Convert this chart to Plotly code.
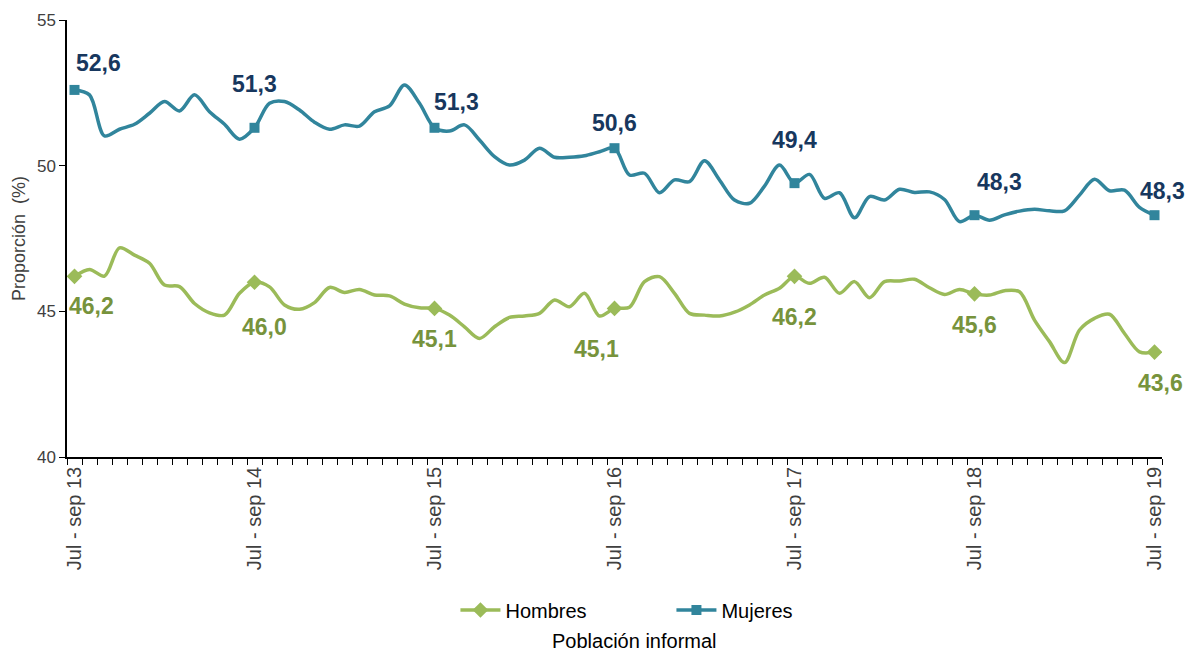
import plotly.graph_objects as go

years = ["13", "14", "15", "16", "17", "18", "19"]
tick_labels = ["Jul - sep " + y for y in years]

mujeres = [52.6, 52.43, 51.02, 51.25, 51.42, 51.8, 52.2, 51.88, 52.43, 51.85, 51.42, 50.91,
           51.3, 52.14, 52.2, 51.91, 51.49, 51.25, 51.4, 51.36, 51.85, 52.05, 52.77, 52.14,
           51.3, 51.19, 51.4, 50.88, 50.31, 50.02, 50.19, 50.6, 50.29, 50.29, 50.34, 50.48,
           50.6, 49.68, 49.74, 49.07, 49.51, 49.45, 50.17, 49.51, 48.82, 48.71, 49.3, 50.02,
           49.4, 49.7, 48.88, 49.07, 48.21, 48.94, 48.82, 49.19, 49.08, 49.1, 48.84, 48.08,
           48.3, 48.13, 48.31, 48.44, 48.5, 48.45, 48.45, 48.99, 49.53, 49.14, 49.16, 48.57,
           48.3]

hombres = [46.2, 46.44, 46.21, 47.18, 46.93, 46.65, 45.9, 45.85, 45.27, 44.95, 44.87, 45.62,
           46.0, 45.84, 45.22, 45.07, 45.3, 45.82, 45.65, 45.75, 45.56, 45.53, 45.25, 45.12,
           45.1, 44.87, 44.47, 44.07, 44.47, 44.79, 44.84, 44.93, 45.39, 45.16, 45.62, 44.84,
           45.1, 45.14, 46.02, 46.19, 45.62, 44.93, 44.87, 44.84, 44.97, 45.22, 45.56, 45.79,
           46.2, 45.96, 46.17, 45.62, 46.02, 45.47, 46.02, 46.04, 46.1, 45.81, 45.58, 45.75,
           45.6, 45.56, 45.71, 45.67, 44.7, 43.96, 43.24, 44.36, 44.76, 44.9, 44.24, 43.61,
           43.6]

n = len(mujeres)
x = list(range(n))
step = 12
label_idx = list(range(0, n, step))

# label offsets in pixels (style only)
muj_shift = [(24, 27), (0, 44), (22, 26), (0, 25), (0, 43), (25, 33), (8, 24)]
hom_shift = [(17, -30), (10, -45), (0, -31), (-18, -41), (0, -41), (0, -31), (6, -31)]

C_MUJ = "#31859C"
C_HOM = "#9BBB59"
C_MUJ_LBL = "#17375E"
C_HOM_LBL = "#77933C"
FONT = "Liberation Sans, Arial, sans-serif"

def sizes(s):
    return [s if i % step == 0 else 0 for i in range(n)]

fig = go.Figure()
series = [("Hombres", hombres, C_HOM, "diamond", 12),
          ("Mujeres", mujeres, C_MUJ, "square", 10)]
for name, ys, col, sym, sz in series:
    fig.add_trace(go.Scatter(
        x=x, y=ys, name=name, mode="lines+markers", showlegend=False,
        line=dict(color=col, width=3.5, shape="spline", smoothing=0.9),
        marker=dict(symbol=sym, size=sizes(sz), color=col, opacity=1, line=dict(width=0)),
    ))
# legend entries
for name, ys, col, sym, sz in series:
    fig.add_trace(go.Scatter(
        x=[None], y=[None], name=name, mode="lines+markers", showlegend=True,
        line=dict(color=col, width=3.5),
        marker=dict(symbol=sym, size=sz, color=col, opacity=1, line=dict(width=0)),
    ))

for k, i in enumerate(label_idx):
    fig.add_annotation(x=i, y=mujeres[i], text=f"{mujeres[i]:.1f}".replace(".", ","),
                       showarrow=False, xshift=muj_shift[k][0], yshift=muj_shift[k][1],
                       font=dict(family=FONT, size=23, color=C_MUJ_LBL, weight="bold"))
    fig.add_annotation(x=i, y=hombres[i], text=f"{hombres[i]:.1f}".replace(".", ","),
                       showarrow=False, xshift=hom_shift[k][0], yshift=hom_shift[k][1],
                       font=dict(family=FONT, size=23, color=C_HOM_LBL, weight="bold"))

fig.add_annotation(xref="paper", yref="paper", x=0.518, y=-0.422, yanchor="middle",
                   text="Población informal", showarrow=False, borderpad=0,
                   font=dict(family=FONT, size=20, color="#000000"))

fig.update_layout(
    width=1190, height=646,
    margin=dict(l=59, r=36, t=12, b=197),
    plot_bgcolor="white", paper_bgcolor="white",
    font=dict(family=FONT, color="#404040"),
    showlegend=True,
    legend=dict(orientation="h", x=0.552, xanchor="center", y=-0.35, yanchor="middle",
                font=dict(family=FONT, size=20, color="#000000"),
                entrywidth=161, itemwidth=40, traceorder="normal"),
)
fig.update_xaxes(
    range=[-0.5, n - 0.5], showgrid=False, zeroline=False, automargin=False,
    showline=True, linecolor="#000000", linewidth=1.5,
    tickmode="array", tickvals=label_idx, ticktext=tick_labels,
    tickangle=-90, ticks="", tickfont=dict(family=FONT, size=20, color="#404040"),
    minor=dict(tickmode="linear", tick0=-0.5, dtick=1, ticks="outside", ticklen=6,
               tickcolor="#000000", tickwidth=1.2),
)
fig.update_yaxes(
    range=[40, 55], tickvals=[40, 45, 50, 55], showgrid=False, zeroline=False, automargin=False,
    showline=True, linecolor="#000000", linewidth=1.5,
    ticks="outside", ticklen=6, tickcolor="#000000",
    tickfont=dict(family=FONT, size=17, color="#404040"),
    title=dict(text="Proporción  (%)", font=dict(family=FONT, size=18, color="#404040"),
               standoff=7),
)

fig.write_html("out.html")
